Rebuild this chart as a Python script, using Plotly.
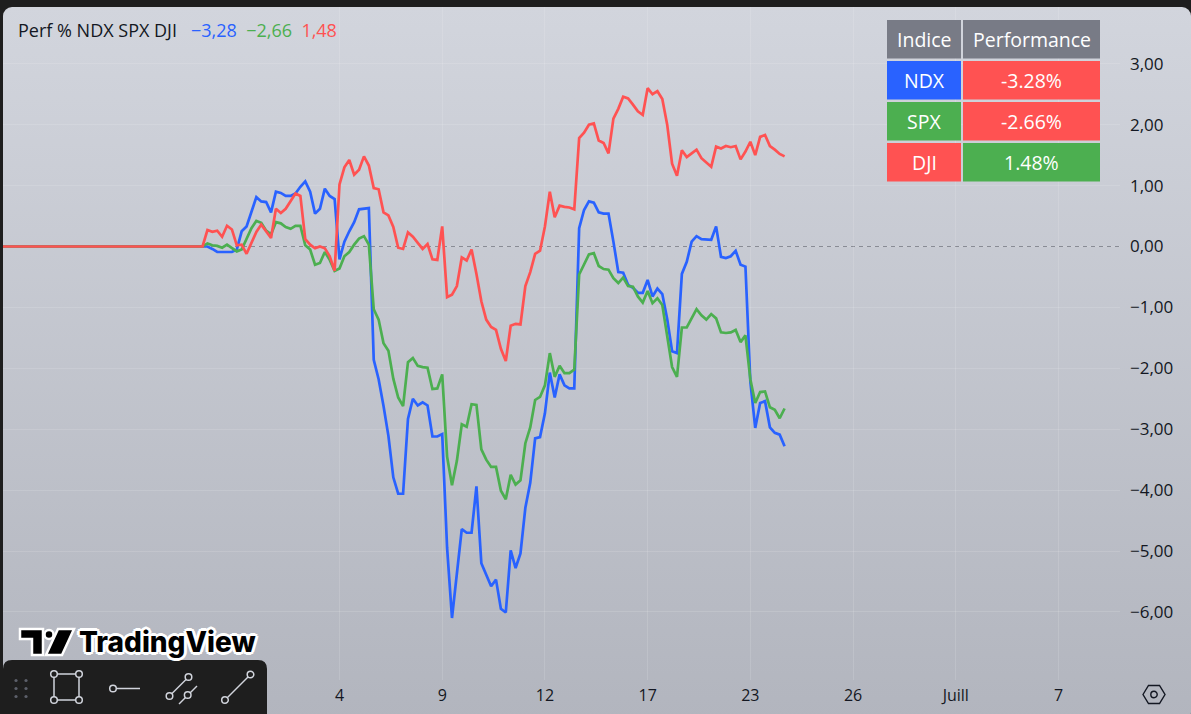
import base64
import plotly.graph_objects as go

W, H = 1191, 714
ML, MR, MT, MB = 3, 71, 7, 34

# hourly bars, 7 per session; bar 0 is the first bar of June 4
first_bar = -70
lead_in = 42  # bars where the three curves sit flat at 0

ndx_tail = [
    0.00, 0.00, -0.04, -0.09, -0.09, -0.09, -0.09, -0.05, 0.25, 0.33,
    0.58, 0.81, 0.74, 0.73, 0.56, 0.90, 0.88, 0.83, 0.83, 0.87,
    0.98, 1.07, 0.90, 0.54, 0.62, 0.95, 0.83, 0.78, -0.21, 0.08,
    0.25, 0.40, 0.61, 0.62, 0.63, -1.86, -2.18, -2.62, -3.11, -3.79,
    -4.06, -4.06, -2.83, -2.50, -2.61, -2.56, -2.61, -3.12, -3.12, -3.08,
    -4.95, -6.10, -5.36, -4.64, -4.70, -4.70, -3.94, -5.20, -5.39, -5.58,
    -5.47, -5.95, -6.01, -4.99, -5.28, -5.04, -4.29, -3.88, -3.15, -3.13,
    -2.74, -2.07, -2.48, -2.10, -2.28, -2.33, -2.33, 0.30, 0.60, 0.74,
    0.72, 0.56, 0.54, 0.54, 0.08, -0.42, -0.43, -0.63, -0.68, -0.76,
    -0.76, -0.55, -0.82, -0.69, -0.78, -1.19, -1.72, -1.75, -0.45, -0.25,
    0.08, 0.17, 0.12, 0.11, 0.11, 0.33, -0.17, -0.19, -0.16, -0.07,
    -0.30, -0.33, -2.22, -2.98, -2.57, -2.54, -2.97, -3.06, -3.09, -3.28,
]
spx_tail = [
    0.00, 0.05, 0.02, 0.01, -0.02, 0.03, -0.03, -0.08, -0.05, 0.12,
    0.30, 0.42, 0.39, 0.26, 0.20, 0.40, 0.38, 0.32, 0.29, 0.34,
    0.34, 0.02, -0.05, -0.30, -0.27, -0.09, -0.22, -0.40, -0.36, -0.16,
    -0.09, 0.03, 0.13, 0.17, 0.03, -1.03, -1.20, -1.59, -1.71, -2.17,
    -2.48, -2.62, -1.90, -1.83, -1.96, -1.98, -1.99, -2.34, -2.33, -2.10,
    -3.45, -3.92, -3.52, -2.92, -2.96, -2.59, -2.60, -3.33, -3.50, -3.62,
    -3.62, -4.01, -4.15, -3.75, -3.91, -3.84, -3.23, -2.97, -2.52, -2.47,
    -2.28, -1.75, -2.14, -1.96, -2.08, -2.08, -2.02, -0.46, -0.28, -0.13,
    -0.11, -0.32, -0.37, -0.38, -0.52, -0.60, -0.51, -0.65, -0.66, -0.82,
    -0.92, -0.73, -0.93, -0.85, -0.96, -1.46, -1.98, -2.14, -1.33, -1.33,
    -1.19, -1.03, -1.13, -1.20, -1.11, -1.18, -1.41, -1.42, -1.41, -1.37,
    -1.57, -1.46, -2.18, -2.57, -2.39, -2.38, -2.64, -2.68, -2.82, -2.66,
]
dji_tail = [
    0.00, 0.27, 0.24, 0.26, 0.16, 0.34, 0.28, 0.02, 0.03, -0.12,
    0.07, 0.24, 0.36, 0.25, 0.14, 0.62, 0.55, 0.62, 0.75, 0.87,
    0.83, 0.12, 0.03, -0.03, 0.00, -0.03, -0.16, -0.40, 1.02, 1.30,
    1.42, 1.18, 1.26, 1.48, 1.33, 0.96, 0.94, 0.56, 0.51, 0.32,
    -0.02, -0.04, 0.23, 0.16, 0.06, -0.04, 0.04, -0.21, -0.22, 0.33,
    -0.83, -0.79, -0.65, -0.18, -0.23, -0.05, -0.45, -0.90, -1.20, -1.32,
    -1.37, -1.68, -1.88, -1.30, -1.27, -1.28, -0.65, -0.42, -0.12, -0.07,
    0.33, 0.90, 0.48, 0.67, 0.65, 0.64, 0.61, 1.78, 1.87, 2.00,
    2.02, 1.74, 1.70, 1.53, 2.10, 2.26, 2.46, 2.43, 2.33, 2.22,
    2.16, 2.60, 2.50, 2.55, 2.42, 2.00, 1.36, 1.16, 1.58, 1.47,
    1.53, 1.59, 1.45, 1.38, 1.31, 1.64, 1.61, 1.65, 1.63, 1.65,
    1.43, 1.56, 1.72, 1.50, 1.80, 1.83, 1.65, 1.59, 1.52, 1.48,
]

tick_bars = [0, 21, 42, 63, 84, 105, 126, 147]
tick_labels = ["4", "9", "12", "17", "23", "26", "Juill", "7"]
y_ticks = [-6, -5, -4, -3, -2, -1, 0, 1, 2, 3]

names = ["NDX", "SPX", "DJI"]
table_header = ["Indice", "Performance"]
BLUE, GREEN, RED, GREY = "#2962FF", "#4CAF50", "#FF5252", "#787B86"
colors = [BLUE, GREEN, RED]
TEXT = "#131722"
FONT = "Open Sans"

series = [[0.0] * lead_in + s for s in (ndx_tail, spx_tail, dji_tail)]
last = [s[-1] for s in series]

# pixel geometry of the price / time scales
BAR_PX, BAR0_PX = 4.891, 339.5
ZERO_PX, UNIT_PX = 246.5, 60.9

PAPER = dict(xref="paper", yref="paper")


def px(x):
    return (x - ML) / (W - ML - MR)


def py(y):
    return (H - MB - y) / (H - MT - MB)


def path(points, close=True):
    d = "M" + " L".join(f"{px(a):.5f},{py(b):.5f}" for a, b in points)
    return d + (" Z" if close else "")


def rounded(x0, y0, x1, y1, r):
    pts = [
        (x0 + r, y0), (x1 - r, y0), "q", (x1, y0), (x1, y0 + r),
        (x1, y1 - r), "q", (x1, y1), (x1 - r, y1),
        (x0 + r, y1), "q", (x0, y1), (x0, y1 - r),
        (x0, y0 + r), "q", (x0, y0), (x0 + r, y0),
    ]
    d, i = f"M{px(pts[0][0]):.5f},{py(pts[0][1]):.5f}", 1
    while i < len(pts):
        p = pts[i]
        if p == "q":
            c, e = pts[i + 1], pts[i + 2]
            d += f" Q{px(c[0]):.5f},{py(c[1]):.5f} {px(e[0]):.5f},{py(e[1]):.5f}"
            i += 3
        else:
            d += f" L{px(p[0]):.5f},{py(p[1]):.5f}"
            i += 1
    return d + " Z"


def box(x0, y0, x1, y1, **kw):
    fig.add_shape(type="rect", x0=px(x0), x1=px(x1), y0=py(y1), y1=py(y0), **PAPER, **kw)


def dot(cx, cy, r, **kw):
    fig.add_shape(type="circle", x0=px(cx - r), x1=px(cx + r), y0=py(cy + r),
                  y1=py(cy - r), **PAPER, **kw)


def label(text, x, y, size, color="white", anchor="center", **font):
    fig.add_annotation(text=text, x=px(x), y=py(y), **PAPER, xanchor=anchor,
                       yanchor="middle", showarrow=False,
                       font=dict(family=font.pop("family", FONT), size=size,
                                 color=color, **font))


def fmt(v):
    return f"{v:.2f}".replace(".", ",").replace("-", "\u2212")


fig = go.Figure()
x = list(range(first_bar, first_bar + len(series[0])))
for name, s, c in zip(names, series, colors):
    fig.add_trace(go.Scatter(x=x, y=s, name=name, mode="lines",
                             line=dict(color=c, width=2.7), hoverinfo="skip"))

# background panel with vertical gradient
svg = (
    f'<svg xmlns="http://www.w3.org/2000/svg" width="{W}" height="{H}">'
    '<defs><linearGradient id="g" x1="0" y1="0" x2="0" y2="1">'
    '<stop offset="0" stop-color="#D2D5DD"/><stop offset="1" stop-color="#B2B5BE"/>'
    '</linearGradient></defs>'
    f'<rect width="{W}" height="{H}" fill="#1E1E1E"/>'
    f'<rect x="3" y="7" width="{W - 3}" height="{H}" rx="9" fill="url(#g)"/></svg>'
)
src = "data:image/svg+xml;base64," + base64.b64encode(svg.encode()).decode()
fig.add_layout_image(source=src, x=px(0), y=py(0), **PAPER,
                     sizex=px(W) - px(0), sizey=py(0) - py(H), xanchor="left",
                     yanchor="top", sizing="stretch", layer="below")

# performance table (cell boxes + centred text)
col_x = [(887, 961), (963, 1100)]
row_y = [(20, 58.5), (61, 99.5), (102, 140.5), (143, 181.5)]
perf_txt = [f"{v:.2f}%" for v in last]
perf_col = [GREEN if v >= 0 else RED for v in last]
rows = [(table_header, [GREY, GREY])] + [
    ([n, t], [c, pc]) for n, t, c, pc in zip(names, perf_txt, colors, perf_col)
]
for (y0, y1), (texts, fills) in zip(row_y, rows):
    for (x0, x1), t, f in zip(col_x, texts, fills):
        box(x0, y0, x1, y1, fillcolor=f, line=dict(width=0))
        label(t, (x0 + x1) / 2, (y0 + y1) / 2 + 0.5, 19.5)

LIGHT = "#D1D4DC"
# drawing toolbar
fig.add_shape(type="path", path=rounded(3, 660, 267, 722, 9), **PAPER,
              fillcolor="#1E1E1E", line=dict(width=0))
for gx in (16, 26):
    for gy in (680.5, 688.5, 696.5):
        dot(gx, gy, 1.6, fillcolor="#5D606B", line=dict(width=0))
segs = [((54, 674), (79, 674)), ((79, 674), (79, 700)), ((79, 700), (54, 700)),
        ((54, 700), (54, 674)), ((113, 688.5), (140, 688.5)),
        ((169.5, 696), (188.5, 677)), ((179, 704), (197, 686)),
        ((225, 700), (250.5, 674.5))]
for (a, b), (c, d) in segs:
    fig.add_shape(type="line", x0=px(a), y0=py(b), x1=px(c), y1=py(d), **PAPER,
                  line=dict(color=LIGHT, width=1.5))
for cx, cy in [(54, 674), (79, 674), (54, 700), (79, 700), (113, 688.5),
               (169.5, 696), (188.5, 677), (187.7, 695), (225, 700), (250.5, 674.5)]:
    dot(cx, cy, 3.3, fillcolor="#1E1E1E", line=dict(color=LIGHT, width=1.5))

# TradingView logo glyph
logo_line = dict(color="white", width=2.5)
fig.add_shape(type="path", path=path([(20, 629), (43, 629), (43, 655), (32, 655),
                                      (32, 639), (20, 639)]), **PAPER,
              fillcolor="black", line=logo_line)
dot(49, 634.5, 4.5, fillcolor="black", line=logo_line)
fig.add_shape(type="path", path=path([(58, 629), (74, 629), (62, 655), (46, 655)]),
              **PAPER, fillcolor="black", line=logo_line)

# settings button on the scale corner
hexa = [(1143, 694.5), (1148.5, 685.5), (1159.5, 685.5), (1165, 694.5),
        (1159.5, 703.5), (1148.5, 703.5)]
fig.add_shape(type="path", path=path(hexa), **PAPER, line=dict(color=TEXT, width=1.4))
dot(1154, 694.5, 3.2, line=dict(color=TEXT, width=1.4))

fig.add_hline(y=0, line=dict(color=GREY, width=1, dash="4px,4px"), layer="below")

outline = ", ".join(f"{a}px {b}px 0 #fff" for a, b in
                    [(2, 0), (-2, 0), (0, 2), (0, -2), (2, 2), (-2, -2), (2, -2), (-2, 2),
                     (3, 0), (-3, 0), (0, 3), (0, -3)])
title = (
    "Perf % " + " ".join(names) + "&nbsp;&nbsp;&nbsp;"
    + "&nbsp;&nbsp;".join(f'<span style="color:{c}">{fmt(v)}</span>'
                          for c, v in zip(colors, last))
)
label(title, 16, 30, 18, color=TEXT, anchor="left")
label("TradingView", 77, 642, 28, color="black", anchor="left",
      family="Inter", weight=800, shadow=outline)

fig.update_layout(
    width=W, height=H,
    margin=dict(l=ML, r=MR, t=MT, b=MB, pad=0),
    paper_bgcolor="#1E1E1E", plot_bgcolor="rgba(0,0,0,0)",
    showlegend=False, separators=", ",
    font=dict(family=FONT, color=TEXT),
    xaxis=dict(range=[(ML - BAR0_PX) / BAR_PX, (W - MR - BAR0_PX) / BAR_PX],
               tickvals=tick_bars, ticktext=tick_labels, showgrid=True,
               gridcolor="rgba(255,255,255,0.13)", zeroline=False, showline=False,
               ticks="", ticklabelstandoff=4, tickfont=dict(size=16, color=TEXT),
               fixedrange=True),
    yaxis=dict(range=[(ZERO_PX - (H - MB)) / UNIT_PX, (ZERO_PX - MT) / UNIT_PX],
               side="right", tickvals=y_ticks, tickformat=".2f", showgrid=True,
               gridcolor="rgba(255,255,255,0.13)", zeroline=False, showline=False,
               ticks="", ticklabelstandoff=9, tickfont=dict(size=17, color=TEXT),
               fixedrange=True),
)

fig.write_html("out.html", config={"displayModeBar": False},
               post_script="document.body.style.margin='0';"
                           "document.body.style.overflow='hidden';")
